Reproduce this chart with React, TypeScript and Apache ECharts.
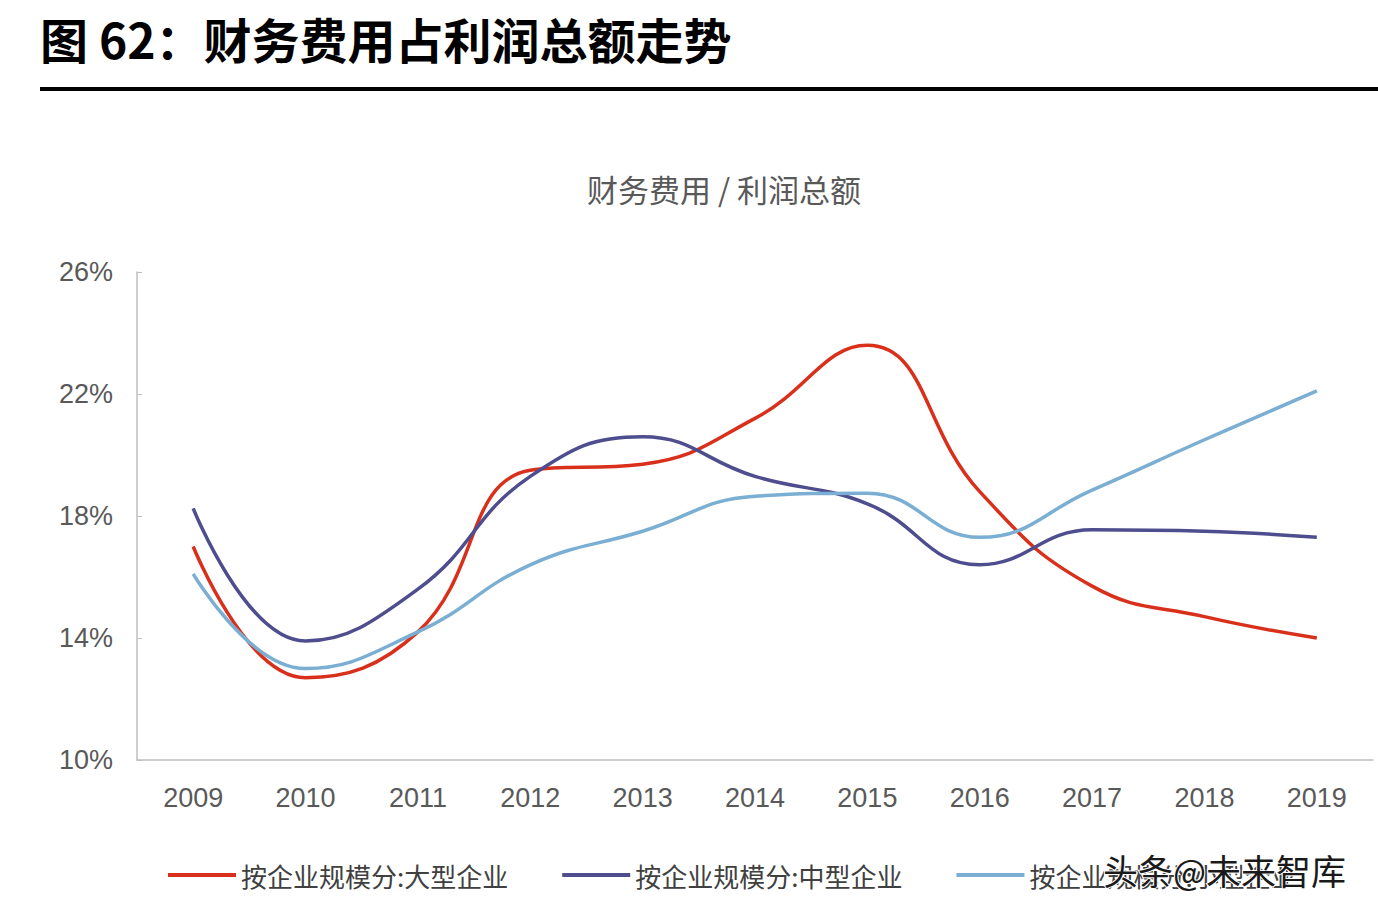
import React, { useEffect, useRef } from "react";
import * as echarts from "echarts";

const years = ["2009", "2010", "2011", "2012", "2013", "2014", "2015", "2016", "2017", "2018", "2019"];
const largeEnt = [17.0, 12.7, 14.2, 19.5, 19.7, 21.2, 23.6, 18.8, 15.7, 14.7, 14.0];
const mediumEnt = [18.25, 13.9, 15.6, 19.3, 20.6, 19.3, 18.4, 16.4, 17.55, 17.5, 17.3];
const smallEnt = [16.1, 13.0, 14.2, 16.4, 17.5, 18.65, 18.75, 17.3, 18.85, 20.5, 22.1];
const seriesNames = ["按企业规模分:大型企业", "按企业规模分:中型企业", "按企业规模分:小型企业"];
const colors = ["#d9301c", "#4e4d8e", "#7aaed2"];

const latin = "'Liberation Sans', Arial, sans-serif";
const cjk = "'Noto Sans CJK SC', 'Noto Sans', sans-serif";

export default function App() {
  const ref = useRef<HTMLDivElement>(null);
  useEffect(() => {
    document.body.style.margin = "0";
    const chart = echarts.init(ref.current!, null, { renderer: "svg" });
    const data = [largeEnt, mediumEnt, smallEnt];
    chart.setOption({
      animation: false,
      backgroundColor: "#ffffff",
      title: {
        text: "财务费用 / 利润总额",
        left: 582,
        top: 168,
        textStyle: { fontFamily: cjk, fontSize: 31, fontWeight: "normal", color: "#595959" },
      },
      graphic: [
        {
          type: "text",
          left: 40,
          top: 14,
          style: {
            text: "图 62：财务费用占利润总额走势",
            fontFamily: cjk,
            fontSize: 48,
            fontWeight: "bold",
            fill: "#000000",
          },
        },
        {
          type: "rect",
          shape: { x: 40, y: 87, width: 1338, height: 4 },
          style: { fill: "#000000" },
        },
        {
          type: "text",
          left: 1102,
          top: 851,
          z: 100,
          style: {
            text: "头条@未来智库",
            fontFamily: cjk,
            fontSize: 35,
            fill: "#1a1a1a",
            stroke: "#ffffff",
            lineWidth: 2,
          },
        },
      ],
      legend: {
        left: 163,
        top: 857,
        itemWidth: 68,
        itemHeight: 4,
        itemGap: 54,
        icon: "rect",
        textStyle: { fontFamily: cjk, fontSize: 26, color: "#404040" },
        data: seriesNames,
      },
      grid: { left: 137, right: 5, top: 272, bottom: 154, containLabel: false },
      xAxis: {
        type: "category",
        data: years,
        boundaryGap: true,
        axisLine: { lineStyle: { color: "#bfbfbf", width: 1.5 } },
        axisTick: { inside: true, length: 6, lineStyle: { color: "#bfbfbf" } },
        axisLabel: { fontFamily: latin, fontSize: 27, color: "#595959", margin: 24 },
      },
      yAxis: {
        type: "value",
        min: 10,
        max: 26,
        interval: 4,
        axisLine: { show: true, lineStyle: { color: "#bfbfbf", width: 1.5 } },
        axisTick: { show: true, inside: true, length: 5, lineStyle: { color: "#bfbfbf" } },
        splitLine: { show: false },
        axisLabel: {
          formatter: "{value}%",
          fontFamily: latin,
          fontSize: 27,
          color: "#595959",
          margin: 24,
        },
      },
      series: data.map((d, i) => ({
        name: seriesNames[i],
        type: "line",
        data: d,
        smooth: 0.45,
        showSymbol: false,
        symbol: "none",
        lineStyle: { color: colors[i], width: 3.5 },
        itemStyle: { color: colors[i] },
      })),
    });
    return () => chart.dispose();
  }, []);
  return <div ref={ref} style={{ position: "absolute", left: 0, top: 0, width: 1378, height: 914 }} />;
}
